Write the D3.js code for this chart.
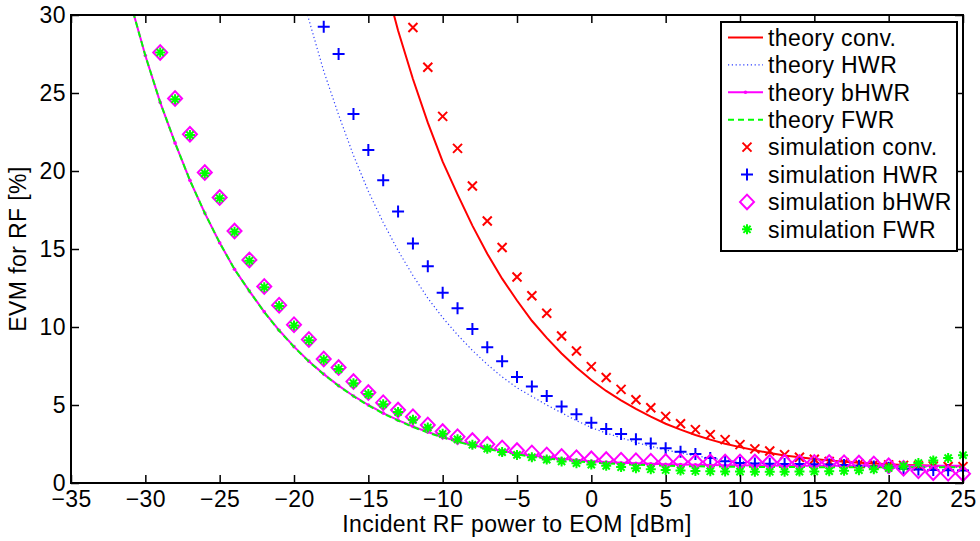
<!DOCTYPE html>
<html>
<head>
<meta charset="utf-8">
<script src="https://cdn.jsdelivr.net/npm/d3@7/dist/d3.min.js"></script>
<style>
  html, body { margin: 0; padding: 0; background: #fff; }
  svg { display: block; font-family: "Liberation Sans", Arial, Helvetica, sans-serif; }
  svg text { letter-spacing: 0.4px; }
</style>
</head>
<body>
<svg id="chart" width="980" height="541"></svg>
<script>
// Incident RF power grid [dBm]
const dBm = [-35,-34,-33,-32,-31,-30,-29,-28,-27,-26,-25,-24,-23,-22,-21,-20,-19,-18,-17,-16,
  -15,-14,-13,-12,-11,-10,-9,-8,-7,-6,-5,-4,-3,-2,-1,0,1,2,3,4,5,6,7,8,9,10,11,12,13,14,15,
  16,17,18,19,20,21,22,23,24,25];

// EVM [%] per series, aligned with dBm (null = not plotted)
const theoryConv = [null,null,null,null,null,null,null,null,null,null,null,null,null,null,null,null,null,null,null,null,null,
  32.6,29.0,25.9,23.1,20.6,18.5,16.5,14.7,13.1,11.7,10.4,9.3,8.3,7.4,6.6,5.9,5.3,4.75,4.25,3.8,3.42,3.08,2.78,2.52,2.3,
  2.1,1.92,1.77,1.65,1.54,1.44,1.37,1.3,1.25,1.2,1.16,1.13,1.1,1.08,1.07];
const theoryHWR = [null,null,null,null,null,null,null,null,null,null,null,null,null,null,null,
  33.3,29.7,26.4,23.6,21.0,18.7,16.7,14.9,13.3,11.85,10.6,9.5,8.5,7.6,6.8,6.1,5.55,5.0,4.5,4.0,3.55,3.2,2.9,2.6,2.35,
  2.12,1.92,1.74,1.6,1.47,1.37,1.29,1.23,1.18,1.14,1.11,1.08,1.06,1.05,1.04,1.03,1.02,1.02,1.01,1.01,1.0];
const theoryBHWR = [null,null,null,null,30.8,27.4,24.4,21.8,19.4,17.3,15.4,13.7,12.3,10.97,9.79,8.74,7.81,6.98,6.24,5.58,
  5.0,4.48,4.03,3.62,3.27,2.95,2.68,2.44,2.23,2.05,1.89,1.76,1.64,1.55,1.47,1.4,1.34,1.3,1.26,1.23,1.2,1.18,1.17,1.15,
  1.14,1.13,1.12,1.12,1.11,1.11,1.11,1.1,1.1,1.1,1.1,1.1,1.1,1.1,1.1,1.1,1.1];
const theoryFWR = [null,null,null,null,30.8,27.4,24.4,21.8,19.4,17.3,15.4,13.7,12.3,10.95,9.76,8.72,7.78,6.96,6.22,5.56,
  4.97,4.45,4.0,3.59,3.23,2.92,2.64,2.4,2.18,2.0,1.83,1.69,1.57,1.48,1.4,1.32,1.26,1.21,1.17,1.14,1.11,1.09,1.07,1.06,
  1.05,1.04,1.03,1.03,1.02,1.02,1.02,1.01,1.01,1.01,1.01,1.01,1.01,1.01,1.01,1.01,1.01];
const simConv = [null,null,null,null,null,null,null,null,null,null,null,null,null,null,null,null,null,null,null,null,null,null,null,
  29.2,26.65,23.5,21.45,19.04,16.8,15.1,13.2,12.0,10.88,9.42,8.46,7.46,6.76,6.0,5.34,4.82,4.27,3.8,3.42,3.1,2.78,2.46,
  2.19,2.05,1.82,1.65,1.52,1.38,1.3,1.24,1.2,1.16,1.13,1.1,1.08,1.06,1.05];
const simHWR = [null,null,null,null,null,null,null,null,null,null,null,null,null,null,null,null,null,
  29.25,27.5,23.65,21.35,19.4,17.4,15.35,13.9,12.2,11.2,9.87,8.7,7.8,6.8,6.18,5.58,4.9,4.4,3.87,3.46,3.14,2.8,2.54,2.22,
  2.0,1.86,1.6,1.4,1.28,1.25,1.23,1.22,1.21,1.2,1.18,1.15,1.1,1.05,0.98,0.92,0.86,0.83,0.82,0.8];
const simBHWR = [null,null,null,null,null,null,
  27.6,24.65,22.35,19.9,18.3,16.15,14.3,12.6,11.4,10.15,9.2,7.95,7.4,6.5,5.8,5.15,4.68,4.25,3.72,3.3,2.97,2.72,2.48,2.25,
  2.08,1.93,1.8,1.7,1.62,1.55,1.5,1.46,1.43,1.4,1.38,1.37,1.36,1.35,1.35,1.34,1.34,1.33,1.33,1.32,1.32,1.31,1.3,1.28,
  1.22,1.1,0.95,0.78,0.66,0.62,0.6];
const simFWR = [null,null,null,null,null,null,
  27.6,24.6,22.3,19.85,18.25,16.1,14.25,12.55,11.35,10.1,9.15,7.9,7.3,6.4,5.7,5.05,4.55,4.05,3.55,3.15,2.8,2.45,2.2,1.98,
  1.8,1.65,1.5,1.38,1.27,1.18,1.1,1.02,0.95,0.88,0.83,0.8,0.77,0.75,0.74,0.73,0.72,0.72,0.72,0.73,0.74,0.76,0.78,0.82,
  0.88,0.96,1.08,1.28,1.45,1.6,1.78];

const xTicks = [-35,-30,-25,-20,-15,-10,-5,0,5,10,15,20,25];
const yTicks = [0,5,10,15,20,25,30];

const legendLabels = ["theory conv.","theory HWR","theory bHWR","theory FWR",
  "simulation conv.","simulation HWR","simulation bHWR","simulation FWR"];

(function draw() {
  const svg = d3.select("#chart");
  const FONT = 23;
  const pL = 71, pR = 963, pT = 15, pB = 483;

  const x = d3.scaleLinear().domain([-35, 25]).range([pL, pR]);
  const y = d3.scaleLinear().domain([0, 30]).range([pB, pT]);

  svg.append("defs").append("clipPath").attr("id", "plotClip")
    .append("rect").attr("x", pL).attr("y", pT).attr("width", pR - pL).attr("height", pB - pT);

  const pairs = vals => dBm.map((p, i) => [p, vals[i]]).filter(d => d[1] !== null);

  // theory curves
  const lineGen = d3.line().x(d => x(d[0])).y(d => y(d[1]));
  const theory = [
    { vals: theoryConv, color: "#ff0000", width: 2, dash: null },
    { vals: theoryHWR, color: "#2a3cff", width: 1.2, dash: "1.2,2.6" },
    { vals: theoryBHWR, color: "#ff00ff", width: 2, dash: null, dots: true },
    { vals: theoryFWR, color: "#00ff00", width: 2, dash: "6,4" }
  ];
  const curves = svg.append("g").attr("clip-path", "url(#plotClip)");
  theory.forEach(t => {
    curves.append("path").datum(pairs(t.vals))
      .attr("d", lineGen).attr("fill", "none")
      .attr("stroke", t.color).attr("stroke-width", t.width)
      .attr("stroke-dasharray", t.dash);
    if (t.dots) {
      curves.selectAll(null).data(pairs(t.vals)).enter().append("circle")
        .attr("cx", d => x(d[0])).attr("cy", d => y(d[1])).attr("r", 1.8)
        .attr("fill", t.color);
    }
  });

  // marker shapes
  const markerPath = {
    cross: "M-4.5,-4.5L4.5,4.5M-4.5,4.5L4.5,-4.5",
    plus: "M-6,0L6,0M0,-6L0,6",
    diamond: "M0,-7.3L7,0L0,7.3L-7,0Z",
    star: "M-5,0L5,0M0,-5L0,5M-3.6,-3.6L3.6,3.6M-3.6,3.6L3.6,-3.6"
  };
  const sims = [
    { vals: simConv, color: "#ff0000", shape: "cross" },
    { vals: simHWR, color: "#0000ff", shape: "plus" },
    { vals: simBHWR, color: "#ff00ff", shape: "diamond" },
    { vals: simFWR, color: "#00ff00", shape: "star" }
  ];
  const marks = svg.append("g");
  sims.forEach(s => {
    marks.selectAll(null).data(pairs(s.vals)).enter().append("path")
      .attr("transform", d => `translate(${x(d[0])},${y(d[1])})`)
      .attr("d", markerPath[s.shape])
      .attr("fill", "none").attr("stroke", s.color).attr("stroke-width", 2);
  });

  // axes: ticks pointing inward on all four sides
  const axStyle = g => {
    g.selectAll(".domain").remove();
    g.selectAll(".tick line").attr("stroke", "#000").attr("stroke-width", 1.5);
    g.selectAll("text").attr("fill", "#000").attr("font-size", FONT)
      .attr("font-family", "'Liberation Sans', Arial, Helvetica, sans-serif");
  };
  svg.append("g").attr("transform", `translate(0,${pB})`)
    .call(d3.axisBottom(x).tickValues(xTicks).tickSize(-8).tickPadding(8))
    .call(axStyle);
  svg.append("g").attr("transform", `translate(0,${pT})`)
    .call(d3.axisTop(x).tickValues(xTicks).tickSize(-8).tickFormat(""))
    .call(axStyle);
  svg.append("g").attr("transform", `translate(${pL},0)`)
    .call(d3.axisLeft(y).tickValues(yTicks).tickSize(-8).tickPadding(5))
    .call(axStyle);
  svg.append("g").attr("transform", `translate(${pR},0)`)
    .call(d3.axisRight(y).tickValues(yTicks).tickSize(-8).tickFormat(""))
    .call(axStyle);

  svg.append("rect").attr("x", pL).attr("y", pT)
    .attr("width", pR - pL).attr("height", pB - pT)
    .attr("fill", "none").attr("stroke", "#000").attr("stroke-width", 2);

  // axis titles
  svg.append("text").attr("x", (pL + pR) / 2).attr("y", 532)
    .attr("text-anchor", "middle").attr("font-size", FONT)
    .text("Incident RF power to EOM [dBm]");
  svg.append("text")
    .attr("transform", `translate(26,${(pT + pB) / 2}) rotate(-90)`)
    .attr("text-anchor", "middle").attr("font-size", FONT)
    .text("EVM for RF [%]");

  // legend
  const lg = svg.append("g");
  lg.append("rect").attr("x", 721).attr("y", 22).attr("width", 236).attr("height", 229)
    .attr("fill", "#fff").attr("stroke", "#000").attr("stroke-width", 2);
  const rowY = i => 37.5 + i * 27.4;
  const entries = theory.map(t => ({ kind: "line", t })).concat(sims.map(s => ({ kind: "mark", s })));
  entries.forEach((e, i) => {
    const cy = rowY(i);
    if (e.kind === "line") {
      lg.append("line").attr("x1", 728).attr("x2", 763).attr("y1", cy).attr("y2", cy)
        .attr("stroke", e.t.color).attr("stroke-width", e.t.width)
        .attr("stroke-dasharray", e.t.dash);
      if (e.t.dots) lg.append("circle").attr("cx", 745.5).attr("cy", cy).attr("r", 1.8).attr("fill", e.t.color);
    } else {
      lg.append("path").attr("transform", `translate(747,${cy})`)
        .attr("d", markerPath[e.s.shape]).attr("fill", "none")
        .attr("stroke", e.s.color).attr("stroke-width", 2);
    }
    lg.append("text").attr("x", 768).attr("y", cy + 8.3).attr("font-size", FONT)
      .text(legendLabels[i]);
  });
})();
</script>
</body>
</html>
